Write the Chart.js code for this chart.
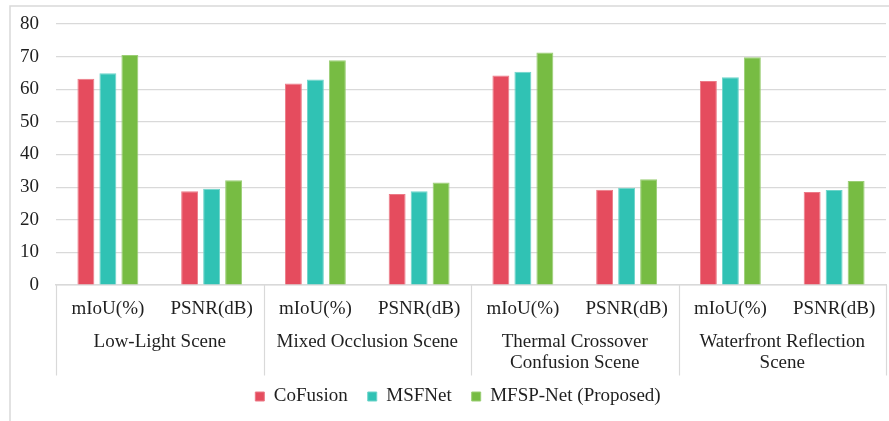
<!DOCTYPE html>
<html>
<head>
<meta charset="utf-8">
<script src="https://cdn.jsdelivr.net/npm/chart.js@4.4.1/dist/chart.umd.min.js"></script>
<style>
  html, body { margin: 0; padding: 0; background: #ffffff; }
  #wrap { width: 889px; height: 421px; position: relative; }
</style>
</head>
<body>
<div id="wrap"><canvas id="chart" width="889" height="421"></canvas></div>
<script>
// Metric labels along the x axis (two per scene)
const metrics = ['mIoU(%)', 'PSNR(dB)', 'mIoU(%)', 'PSNR(dB)', 'mIoU(%)', 'PSNR(dB)', 'mIoU(%)', 'PSNR(dB)'];
// Scene group labels (second row of the category axis)
const scenes = [
  ['Low-Light Scene'],
  ['Mixed Occlusion Scene'],
  ['Thermal Crossover', 'Confusion Scene'],
  ['Waterfront Reflection', 'Scene']
];
// Series values
const coFusion = [63.2, 28.7, 61.8, 27.9, 64.2, 29.2, 62.5, 28.5];
const msfNet   = [64.9, 29.5, 63.0, 28.7, 65.4, 29.8, 63.7, 29.1];
const mfspNet  = [70.5, 32.1, 68.9, 31.4, 71.3, 32.4, 69.8, 31.9];
// Y axis range
const yTicks = { min: 0, max: 80, step: 10 };

const FONT = "'Liberation Serif', 'Times New Roman', serif";
const TEXT = '#1f1f1f';
const LINE = '#d9d9d9';

// Outer frame, scene separators and scene labels
const sceneAxis = {
  id: 'sceneAxis',
  afterLayout(chart) {
    // centre the legend under the plot area rather than the whole canvas
    if (chart.legend) chart.legend.left += 30;
  },
  beforeDraw(chart) {
    const ctx = chart.ctx;
    ctx.save();
    ctx.strokeStyle = LINE;
    ctx.lineWidth = 1.5;
    ctx.beginPath();
    ctx.moveTo(10, 421);
    ctx.lineTo(10, 6);
    ctx.lineTo(889, 6);
    ctx.stroke();
    ctx.restore();
  },
  afterDraw(chart) {
    const ctx = chart.ctx;
    const x = chart.scales.x;
    const groupW = x.width / scenes.length;
    ctx.save();
    ctx.strokeStyle = LINE;
    ctx.lineWidth = 1.2;
    for (let i = 0; i <= scenes.length; i++) {
      const px = Math.round(x.left + i * groupW) + 0.5;
      ctx.beginPath();
      ctx.moveTo(px, x.top);
      ctx.lineTo(px, 375.5);
      ctx.stroke();
    }
    ctx.fillStyle = TEXT;
    ctx.font = '19px ' + FONT;
    ctx.textAlign = 'center';
    ctx.textBaseline = 'middle';
    scenes.forEach((lines, i) => {
      const cx = (x.getPixelForValue(i * 2) + x.getPixelForValue(i * 2 + 1)) / 2;
      lines.forEach((t, j) => ctx.fillText(t, cx, 342 + j * 21));
    });
    ctx.restore();
  }
};

new Chart(document.getElementById('chart'), {
  type: 'bar',
  data: {
    labels: metrics,
    datasets: [
      { label: 'CoFusion', data: coFusion, backgroundColor: '#e54c5e', borderColor: '#ec7a87', borderWidth: 1 },
      { label: 'MSFNet', data: msfNet, backgroundColor: '#30c2b4', borderColor: '#6dd4ca', borderWidth: 1 },
      { label: 'MFSP-Net (Proposed)', data: mfspNet, backgroundColor: '#77bc43', borderColor: '#9bce75', borderWidth: 1 }
    ]
  },
  options: {
    responsive: false,
    animation: false,
    devicePixelRatio: 1,
    layout: { padding: { top: 24, left: 0, right: 3, bottom: 5 } },
    datasets: { bar: { categoryPercentage: 0.636, barPercentage: 0.77 } },
    plugins: {
      legend: {
        position: 'bottom',
        labels: {
          font: { family: FONT, size: 19 },
          color: TEXT,
          boxWidth: 9,
          boxHeight: 9,
          padding: 20
        }
      },
      tooltip: { enabled: false }
    },
    scales: {
      x: {
        grid: { display: false, drawTicks: false },
        border: { display: true, color: LINE, width: 1.5 },
        ticks: { font: { family: FONT, size: 19 }, color: TEXT, padding: 13, maxRotation: 0, autoSkip: false },
        afterFit(scale) { scale.height = 82; scale.paddingLeft = 0; scale.paddingRight = 0; }
      },
      y: {
        min: yTicks.min,
        max: yTicks.max,
        grid: { color: LINE, lineWidth: 1.2, drawTicks: false },
        border: { display: false },
        ticks: { stepSize: yTicks.step, font: { family: FONT, size: 19 }, color: TEXT, padding: 17 },
        afterFit(scale) { scale.width = 56; scale.paddingTop = 0; scale.paddingBottom = 0; }
      }
    }
  },
  plugins: [sceneAxis]
});
</script>
</body>
</html>
